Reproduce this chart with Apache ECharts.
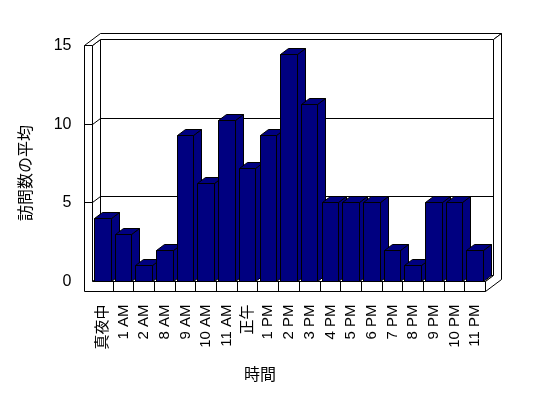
<!DOCTYPE html>
<html>
<head>
<meta charset="utf-8">
<script src="https://cdn.jsdelivr.net/npm/echarts@6/dist/echarts.min.js"></script>
<style>
  html, body { margin: 0; padding: 0; background: #fff; }
  #chart { width: 548px; height: 398px; }
</style>
</head>
<body>
<div id="chart"></div>
<script>
// data
var hours = ['真夜中', '1 AM', '2 AM', '8 AM', '9 AM', '10 AM', '11 AM', '正午', '1 PM', '2 PM',
             '3 PM', '4 PM', '5 PM', '6 PM', '7 PM', '8 PM', '9 PM', '10 PM', '11 PM'];
var visits = [4, 3, 1, 2, 9.25, 6.2, 10.25, 7.2, 9.25, 14.4, 11.25, 5, 5, 5, 2, 1, 5, 5, 2];
var valueTicks = [0, 5, 10, 15];

// fake 3d look
var DX = 8, DY = -6, WALL = 8, FLOOR = 10, BAR_RATIO = 0.8;
var FONT = '"Liberation Sans", "Noto Sans CJK JP", sans-serif';

function snap(v) { return Math.round(v - 0.5) + 0.5; }

function pts(list) {
    return list.map(function (p) { return [snap(p[0]), snap(p[1])]; });
}

function renderFrame(params, api) {
    var cs = params.coordSys;
    var L = cs.x, R = cs.x + cs.width, T = cs.y, B = cs.y + cs.height;
    var OL = L - WALL, FB = B + FLOOR;
    var band = cs.width / hours.length;
    var face = { fill: '#fff', stroke: '#000', lineWidth: 1 };
    var ln = { fill: null, stroke: '#000', lineWidth: 1 };
    var kids = [];
    function poly(list) {
        kids.push({ type: 'polygon', shape: { points: pts(list) }, style: face });
    }
    function line(x1, y1, x2, y2) {
        kids.push({ type: 'line', shape: { x1: snap(x1), y1: snap(y1), x2: snap(x2), y2: snap(y2) }, style: ln });
    }
    // back wall
    poly([[L + DX, T + DY], [R + DX, T + DY], [R + DX, B + DY], [L + DX, B + DY]]);
    // floor top
    poly([[L, B], [L + DX, B + DY], [R + DX, B + DY], [R, B]]);
    // left wall inside
    poly([[L, T], [L + DX, T + DY], [L + DX, B + DY], [L, B]]);
    // wall tops
    poly([[OL, T], [OL + 2 * DX, T + 2 * DY], [R + 2 * DX, T + 2 * DY], [R + DX, T + DY], [L + DX, T + DY], [L, T]]);
    // right side of back wall + floor
    poly([[R + DX, T + DY], [R + 2 * DX, T + 2 * DY], [R + 2 * DX, FB + 2 * DY], [R, FB], [R, B], [R + DX, B + DY]]);
    // front edge of left wall + floor
    poly([[OL, T], [L, T], [L, B], [R, B], [R, FB], [OL, FB]]);

    valueTicks.forEach(function (v) {
        if (v === 0 || v === 15) return;
        var y = api.coord([0, v])[1];
        line(OL, y, L, y);
        line(L, y, L + DX, y + DY);
        line(L + DX, y + DY, R + DX, y + DY);
    });
    for (var k = 1; k < hours.length; k++) {
        var x = L + k * band;
        line(x, B, x, FB);
    }
    return { type: 'group', children: kids };
}

function renderBar(params, api) {
    var i = api.value(0), v = api.value(1);
    var base = api.coord([i, 0]);
    var top = api.coord([i, v]);
    var bw = api.size([1, 0])[0] * BAR_RATIO;
    var x0 = base[0] - bw / 2, x1 = x0 + bw, yT = top[1], yB = base[1];
    var st = { fill: '#000080', stroke: '#000', lineWidth: 1 };
    return {
        type: 'group',
        z2: i,
        children: [
            { type: 'polygon', shape: { points: pts([[x1, yT], [x1 + DX, yT + DY], [x1 + DX, yB + DY], [x1, yB]]) }, style: st, z2: i },
            { type: 'polygon', shape: { points: pts([[x0, yT], [x0 + DX, yT + DY], [x1 + DX, yT + DY], [x1, yT]]) }, style: st, z2: i },
            { type: 'polygon', shape: { points: pts([[x0, yT], [x1, yT], [x1, yB], [x0, yB]]) }, style: st, z2: i }
        ]
    };
}

var barData = [];
for (var i = 0; i < hours.length; i++) {
    barData.push([i, visits[i]]);
}

var myChart = echarts.init(document.getElementById('chart'), null, { renderer: 'canvas' });
var option = {
    animation: false,
    backgroundColor: '#fff',
    grid: {
        left: 92.5, top: 45.5, width: 393, height: 236,
        outerBoundsMode: 'none', containLabel: false
    },
    xAxis: {
        type: 'category',
        data: hours,
        axisLine: { show: false },
        axisTick: { show: false },
        splitLine: { show: false },
        axisLabel: {
            rotate: 90, margin: 23, interval: 0,
            color: '#000', fontSize: 15, fontFamily: FONT
        }
    },
    yAxis: {
        type: 'value',
        min: 0, max: 15, interval: 5,
        axisLine: { show: false },
        axisTick: { show: false },
        splitLine: { show: false },
        axisLabel: { margin: 21, color: '#000', fontSize: 16, fontFamily: FONT }
    },
    graphic: [
        {
            type: 'text', x: 27, y: 173, rotation: Math.PI / 2,
            style: { text: '訪問数の平均', fill: '#000', fontSize: 16, fontFamily: FONT, align: 'center', verticalAlign: 'middle' }
        },
        {
            type: 'text', x: 260, y: 376,
            style: { text: '時間', fill: '#000', fontSize: 16, fontFamily: FONT, align: 'center', verticalAlign: 'middle' }
        }
    ],
    series: [
        { type: 'custom', z: 1, data: [[0, 0]], renderItem: renderFrame, silent: true },
        { type: 'custom', z: 2, data: barData, renderItem: renderBar, encode: { x: 0, y: 1 } }
    ]
};
if (option && typeof option === 'object') {
    myChart.setOption(option, true);
}
</script>
</body>
</html>
